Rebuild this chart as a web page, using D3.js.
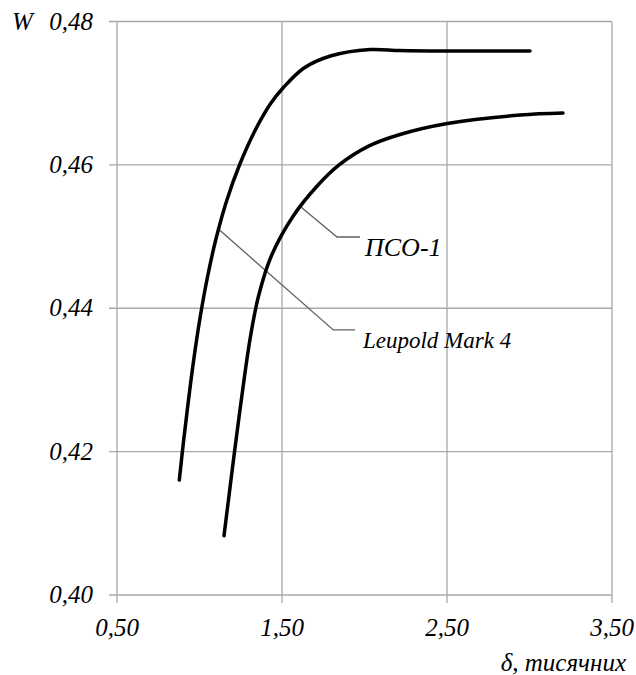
<!DOCTYPE html>
<html>
<head>
<meta charset="utf-8">
<script src="https://cdn.jsdelivr.net/npm/d3@7"></script>
<style>
  body { margin: 0; background: #fff; }
  svg text { font-family: "Liberation Serif", Times, serif; font-style: italic; }
</style>
</head>
<body>
<div id="chart"></div>
<script>
var svgWidth = 636;
var svgHeight = 675;

var margin = { top: 21.5, right: 24, bottom: 80, left: 117 };
var width = 612 - margin.left;
var height = 595 - margin.top;

// data (delta, W)
var xTicks = [0.5, 1.5, 2.5, 3.5];
var yTicks = [0.40, 0.42, 0.44, 0.46, 0.48];

var leupoldX = [0.8776, 0.9042, 0.9333, 0.9648, 1.0012, 1.0448, 1.0982, 1.1661, 1.2424, 1.3382, 1.4333, 1.5061, 1.6333, 1.7933, 2.0333, 2.2152, 2.4879, 3.0030];
var leupoldW = [0.41604, 0.42162, 0.42720, 0.43278, 0.43836, 0.44394, 0.44952, 0.45510, 0.45998, 0.46486, 0.46863, 0.47072, 0.47351, 0.47519, 0.47609, 0.47595, 0.47588, 0.47588];

var psoX = [1.1485, 1.1788, 1.2091, 1.2406, 1.2733, 1.3097, 1.3582, 1.4358, 1.5691, 1.7145, 1.8461, 2.0279, 2.2152, 2.5018, 2.9424, 3.2030];
var psoW = [0.40827, 0.41385, 0.41943, 0.42501, 0.43059, 0.43617, 0.44175, 0.44733, 0.45291, 0.45709, 0.46000, 0.46265, 0.46424, 0.46577, 0.46695, 0.46723];

// leader lines: [point on curve, elbow, end] in data units
var psoLeader = [[1.6127, 0.45416], [1.8333, 0.44994], [1.9727, 0.44994]];
var leupoldLeader = [[1.1164, 0.45101], [1.8109, 0.43697], [1.9424, 0.43697]];

var svg = d3.select("#chart")
  .append("svg")
  .attr("width", svgWidth)
  .attr("height", svgHeight);

var chartGroup = svg.append("g")
  .attr("transform", `translate(${margin.left}, ${margin.top})`);

var x = d3.scaleLinear().domain([0.5, 3.5]).range([0, width]);
var y = d3.scaleLinear().domain([0.40, 0.48]).range([height, 0]);

var fmt = d => d3.format(".2f")(d).replace(".", ",");

// grid
chartGroup.selectAll(".hgrid")
  .data(yTicks)
  .enter()
  .append("line")
  .attr("x1", -8)
  .attr("x2", width)
  .attr("y1", d => y(d))
  .attr("y2", d => y(d))
  .attr("stroke", "#a8a8a8")
  .attr("stroke-width", 1.3);

chartGroup.selectAll(".vgrid")
  .data(xTicks)
  .enter()
  .append("line")
  .attr("x1", d => x(d))
  .attr("x2", d => x(d))
  .attr("y1", 0)
  .attr("y2", height + 8)
  .attr("stroke", "#a8a8a8")
  .attr("stroke-width", 1.3);

// tick labels
chartGroup.selectAll(".ylab")
  .data(yTicks)
  .enter()
  .append("text")
  .attr("x", -24)
  .attr("y", d => y(d) + 8)
  .attr("text-anchor", "end")
  .attr("font-size", 25)
  .text(fmt);

chartGroup.selectAll(".xlab")
  .data(xTicks)
  .enter()
  .append("text")
  .attr("x", d => x(d))
  .attr("y", height + 41)
  .attr("text-anchor", "middle")
  .attr("font-size", 25)
  .text(fmt);

svg.append("text")
  .attr("x", 12)
  .attr("y", 30)
  .attr("font-size", 25)
  .text("W");

svg.append("text")
  .attr("x", 626)
  .attr("y", 671)
  .attr("text-anchor", "end")
  .attr("font-size", 25)
  .text("δ, тисячних");

// leader lines
var leader = d3.line().x(d => x(d[0])).y(d => y(d[1]));
[psoLeader, leupoldLeader].forEach(function (pts) {
  chartGroup.append("path")
    .attr("d", leader(pts))
    .attr("fill", "none")
    .attr("stroke", "#606060")
    .attr("stroke-width", 1.3);
});

// curves
var curve = d3.line()
  .x(d => x(d[0]))
  .y(d => y(d[1]))
  .curve(d3.curveCatmullRom.alpha(0.5));

chartGroup.append("path")
  .attr("d", curve(d3.zip(leupoldX, leupoldW)))
  .attr("fill", "none")
  .attr("stroke", "#000")
  .attr("stroke-width", 3.5)
  .attr("stroke-linecap", "round");

chartGroup.append("path")
  .attr("d", curve(d3.zip(psoX, psoW)))
  .attr("fill", "none")
  .attr("stroke", "#000")
  .attr("stroke-width", 3.5)
  .attr("stroke-linecap", "round");

// series labels
chartGroup.append("text")
  .attr("x", x(1.9727) + 5)
  .attr("y", y(0.44994) + 19)
  .attr("font-size", 26)
  .text("ПСО-1");

chartGroup.append("text")
  .attr("x", x(1.9424) + 8)
  .attr("y", y(0.43697) + 18)
  .attr("font-size", 23)
  .text("Leupold Mark 4");
</script>
</body>
</html>
